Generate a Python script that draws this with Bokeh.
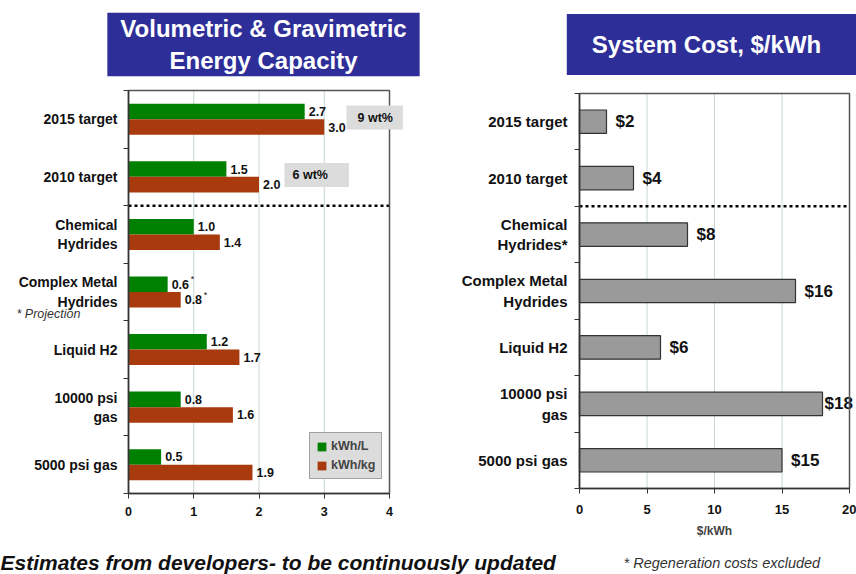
from bokeh.plotting import figure
from bokeh.models import Range1d, FixedTicker, Label, ColumnDataSource
from bokeh.layouts import column, row
from bokeh.embed import file_html
from bokeh.resources import INLINE
from bokeh.core.properties import value

# ---------------- data ----------------
categories = ["2015 target", "2010 target", "Chemical\nHydrides", "Complex Metal\nHydrides",
              "Liquid H2", "10000 psi\ngas", "5000 psi gas"]
cost_categories = ["2015 target", "2010 target", "Chemical\nHydrides*", "Complex Metal\nHydrides",
                   "Liquid H2", "10000 psi\ngas", "5000 psi gas"]
kwh_per_l = [2.7, 1.5, 1.0, 0.6, 1.2, 0.8, 0.5]
kwh_per_kg = [3.0, 2.0, 1.4, 0.8, 1.7, 1.6, 1.9]
projected = [False, False, False, True, False, False, False]
cost = [2, 4, 8, 16, 6, 18, 15]
energy_ticks = [0, 1, 2, 3, 4]
cost_ticks = [0, 5, 10, 15, 20]
wt_targets = ["9 wt%", "6 wt%"]

FONT = "Liberation Sans"
GREEN = "#008000"
RED = "#a83a0e"
BLUE = "#2e2e98"
GRID = "#c6d6d6"
ROW_H = 544

n = len(categories)
centers = [n - 0.5 - i for i in range(n)]
sep_y = n - 2


class Frame:
    """Maps a pixel layout (plot box inside the canvas) to data ranges."""
    def __init__(self, width, height, x0_px, x1_px, xv0, xv1, ytop_px, ybot_px, yv_top, yv_bot):
        self.sx = (x1_px - x0_px) / (xv1 - xv0)
        self.sy = (ybot_px - ytop_px) / (yv_top - yv_bot)
        self.x0_px, self.xv0, self.ytop_px, self.yv_top = x0_px, xv0, ytop_px, yv_top
        self.x_range = Range1d(xv0 - x0_px / self.sx, xv1 + (width - x1_px) / self.sx)
        self.y_range = Range1d(yv_bot - (height - ybot_px) / self.sy, yv_top + ytop_px / self.sy)

    def dx(self, px):
        return self.xv0 + (px - self.x0_px) / self.sx

    def dy(self, py):
        return self.yv_top - (py - self.ytop_px) / self.sy


def make_chart(width, fr, xticks, ylabels, ylab_size, xlab_size, xstand, ystand):
    p = figure(width=width, height=ROW_H, x_range=fr.x_range, y_range=fr.y_range,
               output_backend="svg", toolbar_location=None, min_border=0)
    p.outline_line_color = None
    p.grid.visible = False
    p.background_fill_color = "white"
    # vertical grid lines
    p.segment(x0=xticks[1:-1], y0=0, x1=xticks[1:-1], y1=n, line_color=GRID, line_width=1)
    xa = p.xaxis[0]
    xa.fixed_location = 0
    xa.bounds = (xticks[0], xticks[-1])
    xa.ticker = FixedTicker(ticks=xticks)
    xa.major_tick_out = 5
    xa.major_tick_in = 0
    xa.minor_tick_out = 0
    xa.axis_line_color = "#333333"
    xa.axis_line_width = 1.5
    xa.major_tick_line_color = "#333333"
    xa.major_label_text_font = FONT
    xa.major_label_text_font_style = "bold"
    xa.major_label_text_font_size = xlab_size
    xa.major_label_text_color = "#111111"
    xa.major_label_standoff = xstand
    ya = p.yaxis[0]
    ya.fixed_location = 0
    ya.bounds = (0, n)
    ya.ticker = FixedTicker(ticks=centers, minor_ticks=list(range(n + 1)))
    ya.major_tick_out = 0
    ya.major_tick_in = 0
    ya.minor_tick_out = 5
    ya.minor_tick_in = 0
    ya.minor_tick_line_color = "#333333"
    ya.axis_line_color = "#333333"
    ya.axis_line_width = 1.5
    ya.major_label_overrides = {c: lab for c, lab in zip(centers, ylabels)}
    ya.major_label_text_font = FONT
    ya.major_label_text_font_style = "bold"
    ya.major_label_text_font_size = ylab_size
    ya.major_label_text_color = "#111111"
    ya.major_label_standoff = ystand
    return p


def add_frame_box(p, xmax):
    p.quad(left=0, right=xmax, bottom=0, top=n, fill_alpha=0, line_color="#555555", line_width=1.5)


# ---------------- left chart ----------------
W1 = 430
f1 = Frame(W1, ROW_H, 128, 389, energy_ticks[0], energy_ticks[-1], 90, 493, n, 0)
p1 = make_chart(W1, f1, energy_ticks, categories, "14px", "12.5px", 8, 6)

bar_h = 0.27
vol_src = ColumnDataSource(dict(y=[c + bar_h / 2 for c in centers], v=kwh_per_l,
                                t=[f"{v:.1f}" for v in kwh_per_l]))
grav_src = ColumnDataSource(dict(y=[c - bar_h / 2 for c in centers], v=kwh_per_kg,
                                 t=[f"{v:.1f}" for v in kwh_per_kg]))
p1.hbar(y="y", right="v", left=0, height=bar_h, source=vol_src,
        fill_color=GREEN, line_color=None, legend_label="kWh/L")
p1.hbar(y="y", right="v", left=0, height=bar_h, source=grav_src,
        fill_color=RED, line_color=None, legend_label="kWh/kg")
for src in (vol_src, grav_src):
    p1.text(x="v", y="y", text="t", source=src, x_offset=4, text_baseline="middle",
            text_font=value(FONT), text_font_style="bold", text_font_size="12.5px",
            text_color="#111111")

star_src = ColumnDataSource(dict(
    x=[v for v, f in zip(kwh_per_l, projected) if f] + [v for v, f in zip(kwh_per_kg, projected) if f],
    y=[c + bar_h / 2 for c, f in zip(centers, projected) if f] + [c - bar_h / 2 for c, f in zip(centers, projected) if f],
))
p1.text(x="x", y="y", text=value("*"), source=star_src, x_offset=23, y_offset=-5,
        text_baseline="middle", text_font=value(FONT), text_font_size="9px", text_color="#111111")

p1.line(x=[energy_ticks[0], energy_ticks[-1]], y=[sep_y, sep_y], line_color="black",
        line_width=2.5, line_dash="3 3")
add_frame_box(p1, energy_ticks[-1])

for txt, (px, py, pl, pr) in zip(wt_targets, [(346, 117, 11, 10), (284, 174.5, 8, 21)]):
    p1.add_layout(Label(x=f1.dx(px), y=f1.dy(py), text=txt, text_align="left", text_baseline="middle",
                        text_font=FONT, text_font_style="bold", text_font_size="12.5px",
                        text_color="#111111", background_fill_color="#dcdcdc",
                        padding=dict(left=pl, right=pr, top=5, bottom=5)))

p1.add_layout(Label(x=f1.dx(16), y=f1.dy(313), text="* Projection", text_align="left",
                    text_baseline="middle", text_font=FONT, text_font_style="italic",
                    text_font_size="12.5px", text_color="#333333"))

p1.add_layout(Label(x=f1.dx(263), y=f1.dy(44), text="Volumetric & Gravimetric\nEnergy Capacity",
                    text_align="center", text_baseline="middle", text_font=FONT,
                    text_font_style="bold", text_font_size="24px", text_color="white",
                    background_fill_color=BLUE,
                    padding=dict(left=13, right=13, top=2, bottom=2)))

lg = p1.legend[0]
lg.location = (309, ROW_H - 479)
lg.margin = 0
lg.padding = 6
lg.spacing = 5
lg.glyph_width = 11
lg.glyph_height = 11
lg.label_text_font = FONT
lg.label_text_font_style = "bold"
lg.label_text_font_size = "12.5px"
lg.label_standoff = 4
lg.label_height = 14
lg.background_fill_color = "#dcdcdc"
lg.background_fill_alpha = 1
lg.border_line_color = "#666666"
lg.border_line_width = 1.5

# ---------------- right chart ----------------
W2 = 426
f2 = Frame(W2, ROW_H, 149, 419, cost_ticks[0], cost_ticks[-1], 93, 488, n, 0)
p2 = make_chart(W2, f2, cost_ticks, cost_categories, "15px", "13px", 11, 7)
p2.xaxis[0].axis_label = "$/kWh"
p2.xaxis[0].axis_label_text_font = FONT
p2.xaxis[0].axis_label_text_font_style = "bold"
p2.xaxis[0].axis_label_text_font_size = "12px"
p2.xaxis[0].axis_label_standoff = 7

cost_src = ColumnDataSource(dict(y=centers, v=cost, t=[f"${v}" for v in cost],
                                 off=[9 if v < max(cost) else 2 for v in cost]))
p2.hbar(y="y", right="v", left=0, height=0.415, source=cost_src,
        fill_color="#9a9a9a", line_color="#333333", line_width=1.2)
p2.text(x="v", y="y", text="t", source=cost_src, x_offset="off", text_baseline="middle",
        text_font=value(FONT), text_font_style="bold", text_font_size="17px", text_color="#111111")
p2.line(x=[cost_ticks[0], cost_ticks[-1]], y=[sep_y, sep_y], line_color="black",
        line_width=2.5, line_dash="3 3")
add_frame_box(p2, cost_ticks[-1])

p2.add_layout(Label(x=f2.dx(716 - 430), y=f2.dy(44), text="System Cost, $/kWh",
                    text_align="center", text_baseline="middle", text_font=FONT,
                    text_font_style="bold", text_font_size="24px", text_color="white",
                    background_fill_color=BLUE,
                    padding=dict(left=25, right=45, top=17, bottom=17)))

# ---------------- footnotes ----------------
FOOT_H = 574 - ROW_H
p3 = figure(width=W1 + W2, height=FOOT_H, x_range=Range1d(0, W1 + W2), y_range=Range1d(0, FOOT_H),
            output_backend="svg", toolbar_location=None, x_axis_type=None, y_axis_type=None,
            min_border=0)
p3.outline_line_color = None
p3.grid.visible = False
p3.add_layout(Label(x=0, y=FOOT_H - 18, text="Estimates from developers- to be continuously updated",
                    text_align="left", text_baseline="middle", text_font=FONT,
                    text_font_style="bold italic", text_font_size="21px", text_color="#111111"))
p3.add_layout(Label(x=623, y=FOOT_H - 18, text="*  Regeneration costs excluded",
                    text_align="left", text_baseline="middle", text_font=FONT,
                    text_font_style="italic", text_font_size="14.5px", text_color="#333333"))

layout = column(row(p1, p2), p3)
open("out.html", "w").write(file_html(layout, INLINE))
